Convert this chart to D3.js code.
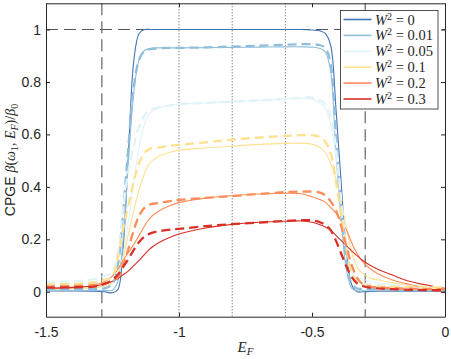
<!DOCTYPE html>
<html><head><meta charset="utf-8">
<script src="https://cdn.jsdelivr.net/npm/d3@7"></script>
<style>body{margin:0;background:#fff}</style>
</head><body><svg id="c" width="451" height="359"></svg>
<script>
const E = [-1.5,-1.4,-1.32,-1.28,-1.25,-1.23,-1.21,-1.19,-1.17,-1.15,-1.13,-1.11,-1.08,-1.04,-1.0,-0.9,-0.8,-0.7,-0.6,-0.54,-0.5,-0.47,-0.45,-0.43,-0.41,-0.39,-0.37,-0.35,-0.33,-0.31,-0.28,-0.24,-0.2,-0.15,-0.1,-0.05,0];
const wLabels = ["0","0.01","0.05","0.1","0.2","0.3"];
const colors = ["#4575b4","#91bfdb","#e0f3f8","#fee090","#fc8d59","#d73027"];
const w0Solid = [0.003,0.003,0.002,0.0,-0.004,0.008,0.17,0.53,0.88,0.985,1.0,1.0,1.0,1.0,1.0,1.0,1.0,1.0,1.0,1.0,0.998,0.995,0.985,0.94,0.70,0.41,0.15,0.025,0.0,0.0,0.001,0.002,0.002,0.002,0.002,0.002,0.002];
const w001Solid = [0.005,0.005,0.005,0.005,0.006,0.04,0.2,0.5,0.76,0.885,0.92,0.927,0.93,0.93,0.93,0.931,0.932,0.933,0.934,0.934,0.933,0.928,0.915,0.84,0.53,0.27,0.08,0.012,0.004,0.004,0.004,0.004,0.004,0.004,0.004,0.004,0.004];
const w001Dashed = [0.01,0.01,0.011,0.013,0.03,0.1,0.3,0.56,0.78,0.885,0.918,0.925,0.928,0.93,0.93,0.932,0.935,0.938,0.942,0.944,0.944,0.94,0.93,0.87,0.6,0.32,0.11,0.028,0.013,0.01,0.01,0.01,0.01,0.01,0.01,0.01,0.01];
const w005Solid = [0.008,0.01,0.014,0.02,0.03,0.06,0.14,0.27,0.42,0.55,0.64,0.68,0.70,0.71,0.715,0.72,0.725,0.73,0.735,0.737,0.735,0.72,0.70,0.64,0.52,0.33,0.16,0.075,0.052,0.047,0.04,0.033,0.027,0.021,0.017,0.014,0.012];
const w005Dashed = [0.038,0.04,0.048,0.06,0.075,0.15,0.32,0.46,0.56,0.63,0.672,0.69,0.703,0.71,0.715,0.72,0.725,0.73,0.735,0.74,0.74,0.73,0.715,0.67,0.55,0.35,0.17,0.07,0.04,0.032,0.027,0.024,0.022,0.02,0.019,0.018,0.018];
const w01Solid = [0.01,0.012,0.016,0.022,0.035,0.065,0.13,0.22,0.31,0.39,0.45,0.49,0.515,0.53,0.54,0.548,0.555,0.562,0.566,0.566,0.563,0.55,0.53,0.49,0.43,0.34,0.24,0.15,0.093,0.07,0.052,0.043,0.035,0.027,0.02,0.015,0.01];
const w01Dashed = [0.028,0.03,0.036,0.045,0.06,0.13,0.24,0.33,0.42,0.49,0.53,0.545,0.55,0.556,0.56,0.57,0.58,0.588,0.594,0.597,0.597,0.59,0.572,0.53,0.42,0.29,0.16,0.07,0.035,0.025,0.022,0.02,0.019,0.018,0.018,0.017,0.017];
const w02Solid = [0.012,0.015,0.025,0.038,0.06,0.085,0.12,0.15,0.18,0.215,0.25,0.28,0.305,0.326,0.34,0.357,0.367,0.373,0.376,0.374,0.362,0.352,0.342,0.322,0.30,0.27,0.235,0.185,0.145,0.115,0.087,0.062,0.046,0.032,0.02,0.008,-0.004];
const w02Dashed = [0.02,0.022,0.026,0.032,0.042,0.055,0.1,0.165,0.235,0.29,0.32,0.333,0.338,0.345,0.35,0.358,0.365,0.373,0.38,0.382,0.382,0.378,0.368,0.345,0.31,0.25,0.17,0.1,0.052,0.03,0.02,0.016,0.014,0.012,0.011,0.01,0.01];
const w03Solid = [0.014,0.017,0.022,0.03,0.04,0.05,0.065,0.08,0.1,0.12,0.142,0.163,0.185,0.205,0.22,0.243,0.257,0.265,0.269,0.27,0.265,0.256,0.247,0.235,0.215,0.195,0.175,0.155,0.137,0.12,0.1,0.08,0.065,0.045,0.032,0.022,0.013];
const w03Dashed = [0.016,0.017,0.02,0.03,0.045,0.065,0.095,0.125,0.16,0.19,0.21,0.222,0.23,0.236,0.24,0.25,0.258,0.264,0.27,0.273,0.272,0.265,0.255,0.235,0.195,0.145,0.095,0.055,0.032,0.022,0.015,0.012,0.01,0.008,0.007,0.006,0.006];
const xTicks = [-1.5,-1,-0.5,0];
const yTicks = [0,0.2,0.4,0.6,0.8,1];
const vDashed = [-1.29,-0.3];
const vDotted = [-1.0,-0.8,-0.6];
const hDashed = [1];

const series = [
  {c:0, v:w0Solid, dash:false},
  {c:1, v:w001Solid, dash:false},
  {c:2, v:w005Solid, dash:false},
  {c:3, v:w01Solid, dash:false},
  {c:4, v:w02Solid, dash:false},
  {c:5, v:w03Solid, dash:false},
  {c:1, v:w001Dashed, dash:true},
  {c:2, v:w005Dashed, dash:true},
  {c:3, v:w01Dashed, dash:true},
  {c:4, v:w02Dashed, dash:true},
  {c:5, v:w03Dashed, dash:true}
];

const L=46, R=445, T=3.3, B=316.7;
const x = d3.scaleLinear().domain([-1.5,0]).range([L,R]);
const y = d3.scaleLinear().domain([-0.095,1.1]).range([B,T]);
const svg = d3.select("#c");
const axc = "#262626";

// reference lines
const ref = svg.append("g");
vDashed.forEach(v=>ref.append("line").attr("x1",x(v)).attr("x2",x(v)).attr("y1",T).attr("y2",B)
  .attr("stroke","#555").attr("stroke-width",1.1).attr("stroke-dasharray","12,6"));
vDotted.forEach(v=>ref.append("line").attr("x1",x(v)).attr("x2",x(v)).attr("y1",T).attr("y2",B)
  .attr("stroke","#555").attr("stroke-width",1).attr("stroke-dasharray","1,2"));
hDashed.forEach(v=>ref.append("line").attr("x1",L).attr("x2",R).attr("y1",y(v)).attr("y2",y(v))
  .attr("stroke","#555").attr("stroke-width",1.1).attr("stroke-dasharray","12,6"));

const line = d3.line().x((d,i)=>x(E[i])).y(d=>y(d)).curve(d3.curveCatmullRom.alpha(0.5));
const cg = svg.append("g");
series.forEach(s=>{
  cg.append("path").attr("d",line(s.v)).attr("fill","none")
    .attr("stroke",colors[s.c])
    .attr("stroke-width",s.dash?2.3:1.1)
    .attr("stroke-dasharray",s.dash?"9,5":null);
});

// axes
const fmt = d=>String(d);
const font = "'Liberation Sans', Arial, sans-serif";
function styleAx(g){
  g.selectAll("path.domain").attr("stroke",axc);
  g.selectAll(".tick line").attr("stroke",axc);
  g.selectAll("text").attr("fill",axc).style("font-family",font).style("font-size","14px");
}
svg.append("g").attr("transform",`translate(0,${B})`)
  .call(d3.axisBottom(x).tickValues(xTicks).tickFormat(fmt).tickSize(-4).tickSizeOuter(0).tickPadding(10)).call(styleAx);
svg.append("g").attr("transform",`translate(0,${T})`)
  .call(d3.axisTop(x).tickValues(xTicks).tickFormat("").tickSize(-4).tickSizeOuter(0)).call(styleAx);
svg.append("g").attr("transform",`translate(${L},0)`)
  .call(d3.axisLeft(y).tickValues(yTicks).tickFormat(fmt).tickSize(-4).tickSizeOuter(0).tickPadding(5)).call(styleAx);
svg.append("g").attr("transform",`translate(${R},0)`)
  .call(d3.axisRight(y).tickValues(yTicks).tickFormat("").tickSize(-4).tickSizeOuter(0)).call(styleAx);

// legend
const lg = svg.append("g");
lg.append("rect").attr("x",340.5).attr("y",10.5).attr("width",97.5).attr("height",98.5)
  .attr("fill","#fff").attr("stroke",axc).attr("stroke-width",0.8);
const serif = "'Liberation Serif', 'Times New Roman', serif";
wLabels.forEach((w,i)=>{
  const yy = 19.5 + i*15.9;
  lg.append("line").attr("x1",343.5).attr("x2",371.5).attr("y1",yy).attr("y2",yy)
    .attr("stroke",colors[i]).attr("stroke-width",1.6);
  const t = lg.append("text").attr("x",375).attr("y",yy+5).attr("fill",axc)
    .style("font-family",serif).style("font-size","14.5px");
  t.append("tspan").attr("font-style","italic").text("W");
  t.append("tspan").attr("font-size","10px").attr("dy",-5).text("2");
  t.append("tspan").attr("dy",5).text(" = "+w);
});

// x label
const xl = svg.append("text").attr("x",(L+R)/2).attr("y",352).attr("text-anchor","middle")
  .attr("fill",axc).style("font-family",serif).style("font-size","15px");
xl.append("tspan").attr("font-style","italic").text("E");
xl.append("tspan").attr("font-style","italic").attr("font-size","11px").attr("dy",3).text("F");

// y label
const yl = svg.append("text").attr("transform",`translate(15,${(T+B)/2}) rotate(-90)`)
  .attr("text-anchor","middle").attr("fill",axc).style("font-size","14px");
yl.append("tspan").style("font-family",font).text("CPGE ");
const m = (txt,it,opt={})=>{const s=yl.append("tspan").style("font-family",serif).text(txt);
  if(it) s.attr("font-style","italic"); if(opt.sub){s.attr("font-size","10px").attr("dy",opt.dy);} else if(opt.dy){s.attr("dy",opt.dy);} return s;};
m("β",true); m("(",false); m("ω",true); m("1",false,{sub:true,dy:3}); m(", ",false,{dy:-3});
m("E",true); m("F",true,{sub:true,dy:3}); m(")/",false,{dy:-3}); m("β",true); m("0",false,{sub:true,dy:3});
</script></body></html>
